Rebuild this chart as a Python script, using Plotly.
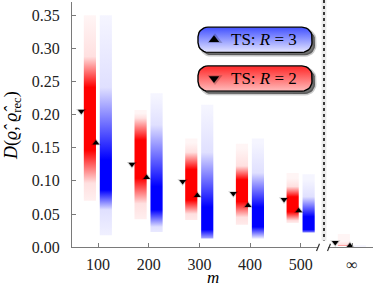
import plotly.graph_objects as go
import numpy as np

W, H = 374, 293

# ---------------- data ----------------
m_values = [100, 200, 300, 400, 500]
m_ticks = ["100", "200", "300", "400", "500"]
inf_label = "∞"
y_ticks = [0.0, 0.05, 0.10, 0.15, 0.20, 0.25, 0.30, 0.35]

# TS point estimates (markers); last entry = m -> infinity
r2_point = [0.205, 0.125, 0.099, 0.081, 0.072, 0.007]   # R = 2 (down triangles)
r3_point = [0.157, 0.105, 0.078, 0.063, 0.055, 0.002]   # R = 3 (up triangles)

# distribution strips (R = 2, red): min, lower tail, core low, core high, upper tail, max
r2_min = [0.070, 0.042, 0.041, 0.034, 0.037, 0.002]
r2_tlo = [0.105, 0.075, 0.060, 0.055, 0.050, 0.003]
r2_clo = [0.153, 0.112, 0.080, 0.078, 0.063, 0.004]
r2_chi = [0.245, 0.168, 0.125, 0.110, 0.085, 0.012]
r2_thi = [0.290, 0.200, 0.150, 0.130, 0.100, 0.015]
r2_max = [0.350, 0.207, 0.164, 0.156, 0.112, 0.020]

# distribution strips (R = 3, blue)
r3_min = [0.018, 0.023, 0.013, 0.013, 0.022, 0.0000]
r3_tlo = [0.066, 0.041, 0.020, 0.025, 0.030, 0.0003]
r3_clo = [0.095, 0.066, 0.037, 0.041, 0.037, 0.0005]
r3_chi = [0.139, 0.100, 0.070, 0.070, 0.056, 0.0025]
r3_thi = [0.245, 0.190, 0.150, 0.120, 0.085, 0.0028]
r3_max = [0.350, 0.232, 0.215, 0.164, 0.110, 0.0030]

legend_labels = ["TS: <i>R</i> = 3", "TS: <i>R</i> = 2"]

# ---------------- layout constants ----------------
FONT = "Liberation Serif"
AX = "#7a7a7a"
RED_OFF, BLUE_OFF, HALF_W = -16, 15.5, 12
DOWN_OFF, UP_OFF = -33, -4

fig = go.Figure()


def blend(rgb, a):
    return "rgb(%d,%d,%d)" % tuple(round(255 - (255 - c) * a) for c in rgb)


def strip(xc, vals, rgb, xaxis):
    lo, hi = vals[0], vals[-1]
    alphas = [0.04, 0.12, 1.0, 1.0, 0.12, 0.04]
    cs = []
    last = -1
    for v, a in zip(vals, alphas):
        p = (v - lo) / (hi - lo)
        if p <= last:
            p = min(1.0, last + 1e-4)
        last = p
        cs.append([p, blend(rgb, a)])
    cs[-1][0] = 1.0
    fig.add_trace(go.Scatter(
        x=[xc - HALF_W, xc + HALF_W, xc + HALF_W, xc - HALF_W, xc - HALF_W],
        y=[lo, lo, hi, hi, lo], mode="lines", line=dict(width=0),
        fill="toself",
        fillgradient=dict(type="vertical", colorscale=cs, start=lo, stop=hi),
        xaxis=xaxis, yaxis="y", hoverinfo="skip", showlegend=False))


xs_all = m_values + [0]
for i, xc in enumerate(xs_all):
    xa = "x" if i < len(m_values) else "x2"
    strip(xc + RED_OFF, [r2_min[i], r2_tlo[i], r2_clo[i], r2_chi[i], r2_thi[i], r2_max[i]], (255, 0, 0), xa)
    strip(xc + BLUE_OFF, [r3_min[i], r3_tlo[i], r3_clo[i], r3_chi[i], r3_thi[i], r3_max[i]], (0, 0, 255), xa)


def markers(xs, ys, sym, xaxis):
    fig.add_trace(go.Scatter(x=xs, y=ys, mode="markers", xaxis=xaxis, yaxis="y",
                             marker=dict(symbol=sym, size=9, color="rgba(0,0,0,0.18)"),
                             hoverinfo="skip", showlegend=False, cliponaxis=False))
    fig.add_trace(go.Scatter(x=xs, y=ys, mode="markers", xaxis=xaxis, yaxis="y",
                             marker=dict(symbol=sym, size=6, color="black"),
                             hoverinfo="skip", showlegend=False, cliponaxis=False))


markers([m + DOWN_OFF for m in m_values], r2_point[:5], "triangle-down", "x")
markers([m + UP_OFF for m in m_values], r3_point[:5], "triangle-up", "x")
markers([0 + DOWN_OFF], r2_point[5:], "triangle-down", "x2")
markers([0 + UP_OFF], r3_point[5:], "triangle-up", "x2")


# ---------------- legend boxes (pixel overlay axis) ----------------
def rounded_rect(x0, y0, x1, y1, r, n=8):
    pts = []
    corners = [(x1 - r, y0 + r, -90, 0), (x1 - r, y1 - r, 0, 90),
               (x0 + r, y1 - r, 90, 180), (x0 + r, y0 + r, 180, 270)]
    for cx, cy, a0, a1 in corners:
        for t in np.linspace(np.radians(a0), np.radians(a1), n):
            pts.append((cx + r * np.cos(t), cy + r * np.sin(t)))
    pts.append(pts[0])
    return [p[0] for p in pts], [p[1] for p in pts]


boxes = [
    dict(y0=28, y1=54, top=(70, 85, 255), bot=(240, 240, 255), sym="triangle-up"),
    dict(y0=68, y1=94, top=(255, 50, 50), bot=(255, 205, 205), sym="triangle-down"),
]
BX0, BX1 = 198, 312
for b, lab in zip(boxes, legend_labels):
    sx, sy = rounded_rect(BX0 + 3, b["y0"] + 3, BX1 + 3, b["y1"] + 3, 10)
    fig.add_trace(go.Scatter(x=sx, y=sy, mode="lines", fill="toself",
                             fillcolor="rgba(0,0,0,0.55)",
                             line=dict(width=3, color="rgba(0,0,0,0.2)"),
                             xaxis="x3", yaxis="y3", hoverinfo="skip", showlegend=False))
    bx, by = rounded_rect(BX0, b["y0"], BX1, b["y1"], 10)
    fig.add_trace(go.Scatter(
        x=bx, y=by, mode="lines", fill="toself",
        fillgradient=dict(type="vertical", start=b["y0"], stop=b["y1"],
                          colorscale=[[0, "rgb(%d,%d,%d)" % b["top"]],
                                      [1, "rgb(%d,%d,%d)" % b["bot"]]]),
        line=dict(width=1.4, color="black"),
        xaxis="x3", yaxis="y3", hoverinfo="skip", showlegend=False))
    yc = (b["y0"] + b["y1"]) / 2
    fig.add_trace(go.Scatter(x=[215], y=[yc], mode="markers",
                             marker=dict(symbol=b["sym"], size=13, color="rgba(0,0,0,0.2)"),
                             xaxis="x3", yaxis="y3", hoverinfo="skip", showlegend=False))
    fig.add_trace(go.Scatter(x=[214], y=[yc], mode="markers",
                             marker=dict(symbol=b["sym"], size=9, color="black"),
                             xaxis="x3", yaxis="y3", hoverinfo="skip", showlegend=False))
    fig.add_annotation(x=229, y=yc, xref="x3", yref="y3", text=lab, showarrow=False,
                       xanchor="left", yanchor="middle",
                       font=dict(family=FONT, size=17, color="black"))

# ---------------- axes break marks & dotted separator ----------------
shapes = [
    dict(type="line", xref="x3", yref="y3", x0=324, x1=324, y0=0, y1=248,
         line=dict(color="rgba(0,0,0,0.08)", width=5)),
    dict(type="line", xref="x3", yref="y3", x0=324, x1=324, y0=0, y1=248,
         line=dict(color="black", width=1.5, dash="dot")),
    dict(type="line", xref="x3", yref="y3", x0=316.5, x1=319.5, y0=259, y1=251.5,
         line=dict(color="#333", width=1.2)),
    dict(type="line", xref="x3", yref="y3", x0=327.5, x1=330.5, y0=259, y1=251.5,
         line=dict(color="#333", width=1.2)),
]

fig.add_annotation(x=12, y=130, xref="x3", yref="y3", textangle=-90, showarrow=False,
                   text="<i>D</i>(<i>ϱ̂</i>, <i>ϱ̂</i><sub>rec</sub>)",
                   font=dict(family=FONT, size=18, color="black"))
fig.add_annotation(x=213, y=286, xref="x3", yref="y3", showarrow=False,
                   text="<i>m</i>", font=dict(family=FONT, size=17, color="black"))

tickfont = dict(family=FONT, size=16, color="#222")
fig.update_layout(
    width=W, height=H, margin=dict(l=0, r=0, t=0, b=0),
    paper_bgcolor="white", plot_bgcolor="rgba(0,0,0,0)",
    showlegend=False, shapes=shapes,
    xaxis=dict(domain=[72 / W, 318 / W], range=[48.7, 534], anchor="y",
               tickvals=m_values, ticktext=m_ticks, ticks="inside", ticklen=4,
               tickcolor=AX, showline=True, linecolor=AX, linewidth=1.3,
               showgrid=False, zeroline=False, tickfont=tickfont,
               ticklabelstandoff=2, fixedrange=True),
    xaxis2=dict(domain=[328 / W, 373 / W], range=[-47.3, 41.4], anchor="y",
                tickvals=[0], ticktext=[inf_label], ticks="inside", ticklen=4,
                tickcolor=AX, showline=True, linecolor=AX, linewidth=1.3,
                showgrid=False, zeroline=False, tickfont=tickfont,
                ticklabelstandoff=2, fixedrange=True),
    yaxis=dict(domain=[(H - 255) / H, (H - 2) / H], range=[0, 0.3699], anchor="x",
               tickvals=y_ticks, tickformat=".2f", ticks="inside", ticklen=4,
               tickcolor=AX, showline=True, linecolor=AX, linewidth=1.3,
               showgrid=False, zeroline=False, tickfont=tickfont,
               ticklabelstandoff=8, fixedrange=True),
    xaxis3=dict(domain=[0, 1], range=[0, W], visible=False, anchor="y3", fixedrange=True),
    yaxis3=dict(domain=[0, 1], range=[H, 0], visible=False, anchor="x3", fixedrange=True),
)

fig.write_html("out.html", config={"displayModeBar": False},
               post_script="document.body.style.margin='0px';document.body.style.overflow='hidden';")
